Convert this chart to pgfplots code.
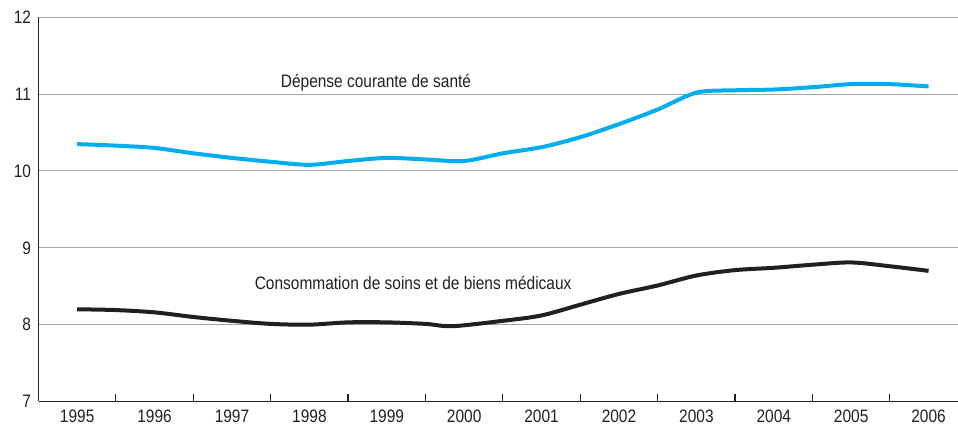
\documentclass[border=0pt]{standalone}
\usepackage{fontspec}
\setmainfont{Liberation Sans}[FakeStretch=0.86]
\usepackage{pgfplots}
\pgfplotsset{compat=1.18}
\definecolor{cyanline}{RGB}{0,174,239}
\definecolor{darkline}{RGB}{35,31,32}
\definecolor{gridgray}{RGB}{165,165,165}
\begin{document}
\begin{tikzpicture}
\begin{axis}[
  at={(38.5bp,30.5bp)}, anchor=south west,
  scale only axis, width=919.5bp, height=384.2bp,
  xmin=-0.5, xmax=11.38, ymin=7, ymax=12,
  axis lines=left,
  axis line style={-, darkline, line width=1.5bp},
  xtick={0,...,11},
  xticklabels={1995,1996,1997,1998,1999,2000,2001,2002,2003,2004,2005,2006},
  major x tick style={draw=none},
  minor xtick={0.5,1.5,...,10.5},
  minor tick length=7bp,
  minor x tick style={darkline, line width=1.2bp},
  tick align=inside,
  ytick={7,...,12},
  major y tick style={draw=none},
  ymajorgrids,
  grid style={gridgray, line width=1bp},
  /pgf/number format/assume math mode=true,
  ticklabel style={font=\fontsize{18bp}{20bp}\selectfont, text=darkline},
  yticklabel style={xshift=-4bp},
  xticklabel style={yshift=-5bp},
  clip=false,
]
\addplot[cyanline, line width=4bp, smooth] coordinates {
(0,10.35) (0.5,10.33) (1,10.30) (1.5,10.23) (2,10.17) (2.5,10.12) (3,10.08)
(3.5,10.13) (4,10.17) (4.5,10.15) (5,10.13) (5.5,10.23) (6,10.31) (6.5,10.44)
(7,10.61) (7.5,10.80) (8,11.02) (8.5,11.05) (9,11.06) (9.5,11.09) (10,11.13)
(10.5,11.13) (11,11.10)
};
\addplot[darkline, line width=4bp, smooth] coordinates {
(0,8.20) (0.5,8.19) (1,8.16) (1.5,8.10) (2,8.05) (2.5,8.01) (3,8.00)
(3.5,8.03) (4,8.03) (4.5,8.01) (4.85,7.98) (5.5,8.05) (6,8.12) (6.5,8.26)
(7,8.40) (7.5,8.51) (8,8.64) (8.5,8.71) (9,8.74) (9.5,8.78) (10,8.81)
(10.5,8.76) (11,8.70)
};
\node[font=\fontsize{18bp}{20bp}\selectfont, text=darkline] at (axis cs:3.86,11.145) {Dépense courante de santé};
\node[font=\fontsize{18bp}{20bp}\selectfont, text=darkline] at (axis cs:4.34,8.54) {Consommation de soins et de biens médicaux};
\end{axis}
\pgfresetboundingbox
\path[use as bounding box] (0,0) rectangle (958bp,432bp);
\end{tikzpicture}
\end{document}
